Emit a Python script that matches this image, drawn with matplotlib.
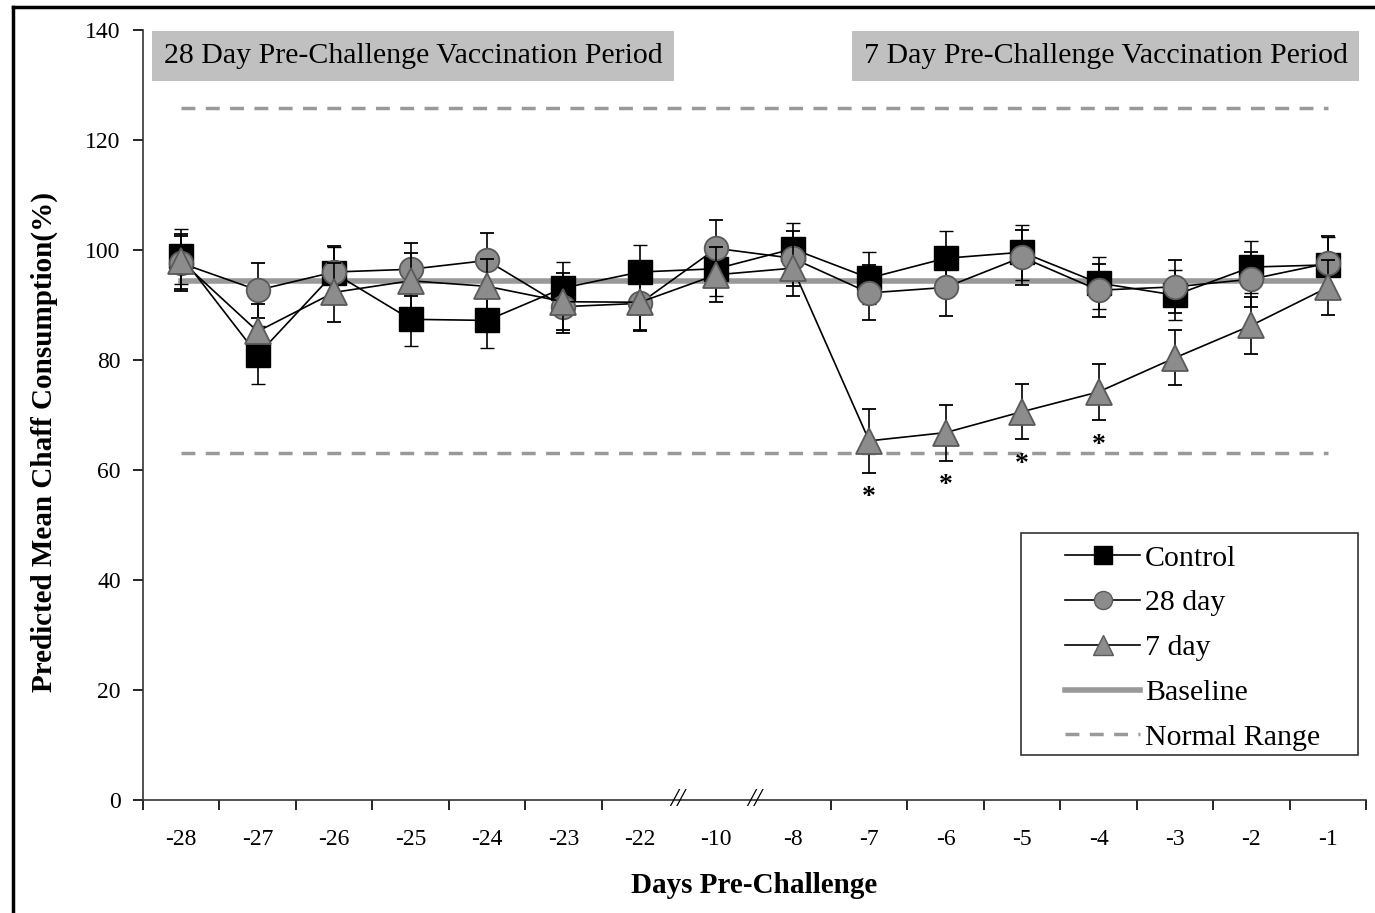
import numpy as np
import matplotlib.pyplot as plt
from matplotlib.lines import Line2D
from matplotlib.patches import Rectangle
import matplotlib.transforms as mtransforms

plt.rcParams['font.family'] = ['Liberation Serif', 'DejaVu Serif']

days = ['-28', '-27', '-26', '-25', '-24', '-23', '-22', '-10',
        '-8', '-7', '-6', '-5', '-4', '-3', '-2', '-1']

control = [98.9, 80.9, 95.8, 87.4, 87.2, 93.1, 96.0, 96.6,
           100.2, 94.9, 98.5, 99.6, 94.0, 91.8, 96.9, 97.3]
day28 = [97.6, 92.7, 96.0, 96.5, 98.1, 89.7, 90.3, 100.3,
         98.5, 92.2, 93.2, 98.7, 92.7, 93.3, 94.7, 97.6]
day7 = [98.0, 85.2, 92.3, 94.4, 93.4, 90.6, 90.5, 95.5,
        96.7, 65.3, 66.8, 70.6, 74.2, 80.4, 86.3, 93.2]

err_control = [5.0, 5.2, 4.8, 4.8, 5.0, 4.8, 5.0, 5.0,
               4.8, 4.8, 5.0, 5.0, 4.8, 4.6, 4.8, 5.0]
err_28 = [5.0, 5.0, 4.8, 4.8, 5.0, 4.8, 4.8, 5.2,
          5.0, 5.0, 5.2, 5.0, 4.8, 4.8, 5.0, 5.0]
err_7 = [5.0, 5.0, 5.4, 5.0, 5.0, 5.2, 5.2, 5.0,
         5.0, 5.8, 5.1, 5.0, 5.1, 5.0, 5.2, 5.0]

star_days = [9, 10, 11, 12]
baseline = 94.3
normal_low = 63.1
normal_high = 125.8

x = np.arange(len(days))

fig = plt.figure(figsize=(13.75, 9.13), dpi=100)
ax = fig.add_axes([0.104, 0.1238, 0.8895, 0.8433])

# reference lines
ax.plot([x[0], x[-1]], [baseline, baseline], color='#999999', lw=4, zorder=1)
ax.plot([x[0], x[-1]], [normal_high, normal_high], color='#999999', lw=2.5,
        ls=(0, (4, 3)), zorder=1)
ax.plot([x[0], x[-1]], [normal_low, normal_low], color='#999999', lw=2.5,
        ls=(0, (4, 3)), zorder=1)

ax.errorbar(x, control, yerr=err_control, color='black', lw=1.2, capsize=5,
            elinewidth=1.2, marker='s', ms=17, mfc='black', mec='black', zorder=3)
ax.errorbar(x, day28, yerr=err_28, color='black', lw=1.2, capsize=5,
            elinewidth=1.2, marker='o', ms=17, mfc='#8c8c8c', mec='#5a5a5a',
            mew=1.3, zorder=4)
ax.errorbar(x, day7, yerr=err_7, color='black', lw=1.2, capsize=5,
            elinewidth=1.2, marker='^', ms=19, mfc='#8c8c8c', mec='#5a5a5a',
            mew=1.3, zorder=5)

for i in star_days:
    ax.text(x[i], day7[i] - err_7[i] - 2.3, '*', ha='center', va='top',
            fontsize=20, fontweight='bold')

ax.set_xlim(-0.5, len(days) - 0.5)
ax.set_ylim(0, 140)
ax.set_yticks(np.arange(0, 141, 20))
ax.set_xticks(x)
ax.set_xticklabels(days)
bounds = [b for b in np.arange(-0.5, len(days), 1.0) if b not in (6.5, 7.5)]
ax.set_xticks(bounds, minor=True)
ax.tick_params(axis='x', which='major', length=0, pad=21, labelsize=17)
ax.tick_params(axis='x', which='minor', length=7, width=1.2, direction='out')
ax.tick_params(axis='y', length=7, width=1.2, labelsize=17, pad=9)
for s in ['top', 'right']:
    ax.spines[s].set_visible(False)
for s in ['left', 'bottom']:
    ax.spines[s].set_linewidth(1.2)
    ax.spines[s].set_color('#333333')

# axis break marks
trans = mtransforms.blended_transform_factory(ax.transData, ax.transAxes)
for b in (6.5, 7.5):
    ax.text(b, 0, '//', transform=trans, ha='center', va='center',
            fontsize=19, style='italic', clip_on=False, zorder=6)

ax.set_xlabel('Days Pre-Challenge', fontsize=21, fontweight='bold')
ax.xaxis.set_label_coords(0.5, -0.094)
ax.set_ylabel('Predicted Mean Chaff Consumption(%)', fontsize=21,
              fontweight='bold')
ax.yaxis.set_label_coords(-0.0695, 0.465)

ax.text(0.2208, 0.966, '28 Day Pre-Challenge Vaccination Period',
        transform=ax.transAxes, ha='center', va='center', fontsize=21.5,
        bbox=dict(boxstyle='square,pad=0.4', facecolor='#c0c0c0', edgecolor='none'))
ax.text(0.787, 0.966, '7 Day Pre-Challenge Vaccination Period',
        transform=ax.transAxes, ha='center', va='center', fontsize=21.5,
        bbox=dict(boxstyle='square,pad=0.4', facecolor='#c0c0c0', edgecolor='none'))

handles = [
    Line2D([], [], color='black', lw=1.2, marker='s', ms=13, mfc='black', mec='black'),
    Line2D([], [], color='black', lw=1.2, marker='o', ms=13, mfc='#8c8c8c', mec='#5a5a5a'),
    Line2D([], [], color='black', lw=1.2, marker='^', ms=14, mfc='#8c8c8c', mec='#5a5a5a'),
    Line2D([], [], color='#999999', lw=4),
    Line2D([], [], color='#999999', lw=2.5, ls=(0, (4, 3))),
]
labels = ['Control', '28 day', '7 day', 'Baseline', 'Normal Range']
leg = ax.legend(handles, labels, loc='upper left', bbox_to_anchor=(0.754, 0.3315),
                borderaxespad=0, fontsize=21.5, frameon=False,
                handlelength=2.5, handletextpad=0.17, labelspacing=0.6,
                borderpad=0)
ax.add_patch(Rectangle((0.718, 0.0584), 0.9935 - 0.718, 0.3468 - 0.0584,
                       transform=ax.transAxes, fill=False, edgecolor='#333333',
                       lw=1.2, zorder=6))

# outer frame (top and left edges)
fig.add_artist(Line2D([0.0095, 1.0], [0.9923, 0.9923], color='black', lw=2.5))
fig.add_artist(Line2D([0.0095, 0.0095], [0.0, 0.9923], color='black', lw=2.5))

fig.savefig('out.png', dpi=100)
